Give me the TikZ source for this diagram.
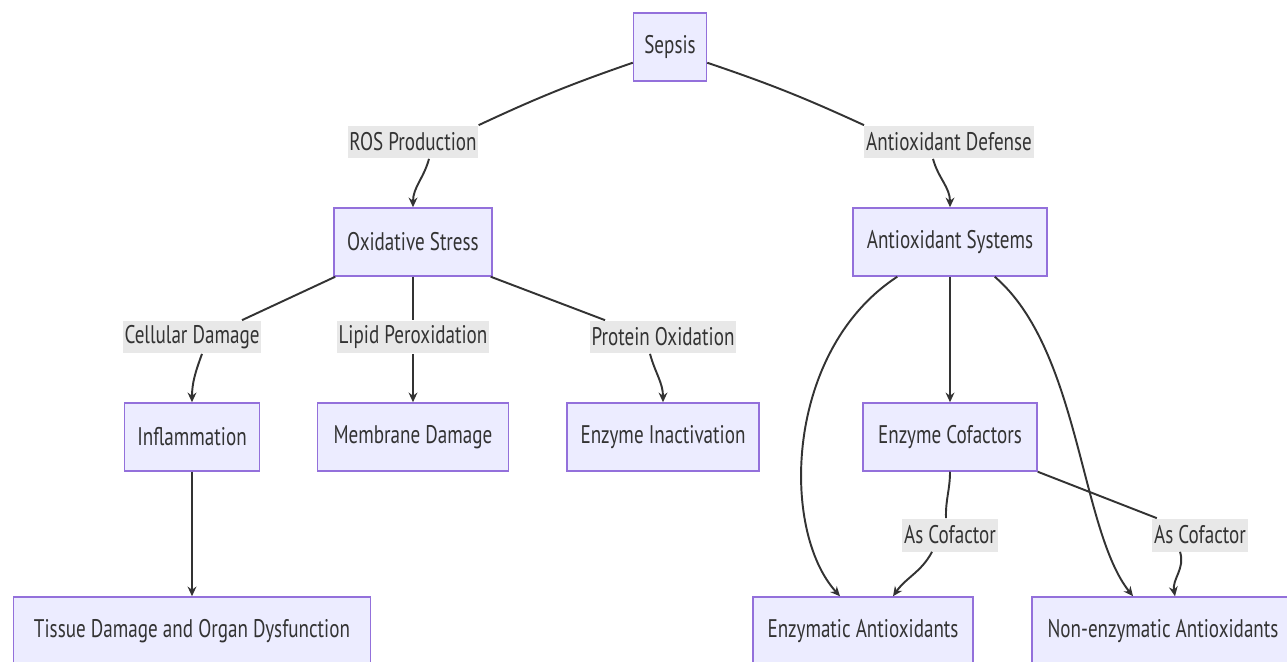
\documentclass[tikz,border=0pt]{standalone}
\usepackage{fontspec}
\setmainfont{PT Sans}[FakeStretch=0.75]
\usetikzlibrary{arrows.meta,calc}
\definecolor{nodefill}{HTML}{ECECFF}
\definecolor{nodeborder}{HTML}{9370DB}
\definecolor{labelfill}{HTML}{E8E8E8}
\definecolor{linecol}{HTML}{333333}
\begin{document}
\begin{tikzpicture}[x=0.02cm, y=0.02cm,
    box/.style={draw=nodeborder, fill=nodefill, line width=0.85pt, minimum height=1.36cm,
      text=linecol, font=\fontsize{14.5}{16}\selectfont},
    boxw/.style={minimum width=#1*0.02cm},
    lbl/.style={fill=labelfill, inner xsep=1pt, inner ysep=0pt, minimum height=0.66cm,
      text=linecol, font=\fontsize{14.5}{16}\selectfont},
    edge/.style={draw=linecol, line width=1.1pt},
    arr/.style={edge, -{Stealth[length=5.5pt, width=5pt]}}]
            \useasboundingbox (0,0) rectangle (1287,-662);
            % boxes
            \node[box, boxw=73] (sepsis) at (670,-47) {Sepsis};
            \node[box, boxw=158] (oxstress) at (413,-242) {Oxidative Stress};
            \node[box, boxw=194] (antisys) at (950,-242) {Antioxidant Systems};
            \node[box, boxw=135] (inflam) at (192,-437) {Inflammation};
            \node[box, boxw=191] (membrane) at (413,-437) {Membrane Damage};
            \node[box, boxw=192] (enzinact) at (663,-437) {Enzyme Inactivation};
            \node[box, boxw=174] (cofactors) at (950,-437) {Enzyme Cofactors};
            \node[box, boxw=357] (tissue) at (192,-631) {Tissue Damage and Organ Dysfunction};
            \node[box, boxw=220] (enzanti) at (863,-631) {Enzymatic Antioxidants};
            \node[box, boxw=262] (nonenz) at (1163,-631) {Non-enzymatic Antioxidants};
            % edge labels
            \node[lbl] (ros) at (413,-142) {ROS Production};
            \node[lbl] (defense) at (949,-142) {Antioxidant Defense};
            \node[lbl] (cellular) at (192,-337) {Cellular Damage};
            \node[lbl] (lipid) at (413,-337) {Lipid Peroxidation};
            \node[lbl] (protein) at (663,-337) {Protein Oxidation};
            \node[lbl] (ascof1) at (950,-535) {As Cofactor};
            \node[lbl] (ascof2) at (1200,-535) {As Cofactor};
            % connectors
            \draw[edge] ($(sepsis.south west)+(0,19)$) to[bend right=3] (ros.north east);
            \draw[arr] ($(ros.south)+(16,0)$) to[out=-105,in=90] (oxstress.north);
            \draw[edge] ($(sepsis.south east)+(0,19)$) to[bend left=3] (defense.north west);
            \draw[arr] ($(defense.south)+(-16,0)$) to[out=-75,in=90] (antisys.north);
            \draw[edge] ($(oxstress.south west)+(2,0)$) -- ($(cellular.north)+(50,0)$);
            \draw[arr] ($(cellular.south)+(10,0)$) to[out=-110,in=90] (inflam.north);
            \draw[edge] (oxstress.south) -- (lipid.north);
            \draw[arr] (lipid.south) -- (membrane.north);
            \draw[edge] ($(oxstress.south east)+(-2,0)$) -- ($(protein.north)+(-58,0)$);
            \draw[arr] ($(protein.south)+(-13,0)$) to[out=-75,in=90] (enzinact.north);
            \draw[arr] (inflam.south) -- (tissue.north);
            \draw[arr] ($(antisys.south west)+(45,0)$) .. controls (785,-350) and (780,-530) .. ($(enzanti.north)+(-23,0)$);
            \draw[arr] (antisys.south) -- (cofactors.north);
            \draw[arr] ($(antisys.south east)+(-53,0)$) .. controls (1080,-350) and (1080,-530) .. ($(nonenz.north)+(-30,0)$);
            \draw[edge] (cofactors.south) to[out=-90,in=92] ($(ascof1.north)+(-4,0)$);
            \draw[arr] ($(ascof1.south)+(-18,0)$) to[out=-118,in=55] ($(enzanti.north)+(30,0)$);
            \draw[edge] (cofactors.south east) -- (ascof2);
            \draw[arr] ($(ascof2.south)+(-20,0)$) to[out=-72,in=100] ($(nonenz.north)+(12,0)$);
        \end{tikzpicture}
\end{document}
